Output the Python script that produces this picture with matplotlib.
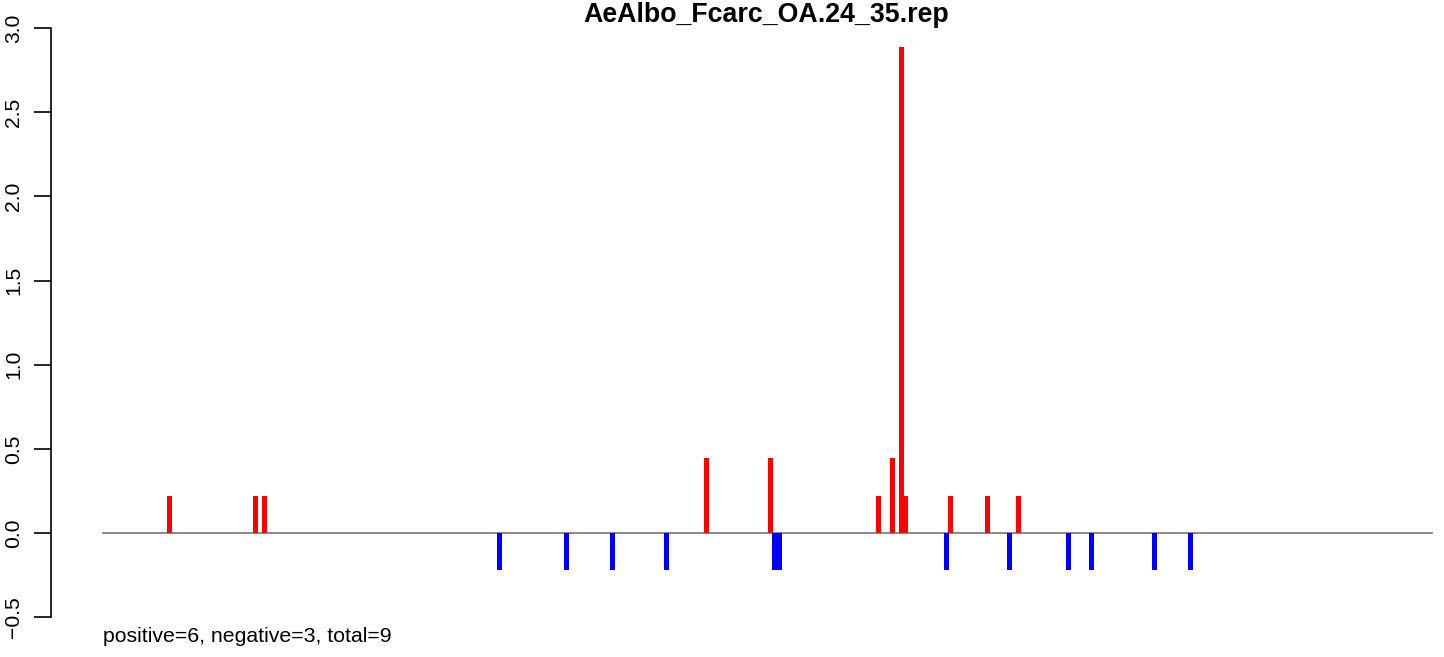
import numpy as np
import matplotlib
matplotlib.use("Agg")
import matplotlib.pyplot as plt

plt.rcParams['font.family'] = ['Liberation Sans', 'DejaVu Sans']

title = "AeAlbo_Fcarc_OA.24_35.rep"
note = "positive=6, negative=3, total=9"

# positions along the sequence (plot units), and scores
pos_x = [66.5, 152.5, 161.5, 603.5, 667.5, 775.5, 789.5, 798.3, 802.8, 847.5, 884.5, 915.5]
pos_y = [0.222, 0.222, 0.222, 0.444, 0.444, 0.222, 0.444, 2.889, 0.222, 0.222, 0.222, 0.222]
neg_x = [396.5, 463.5, 509.5, 563.5, 671.5, 676.5, 843.5, 906.5, 965.5, 988.5, 1051.5, 1087.5]
neg_y = [-0.222] * 12
seq_len = 1329
yticks = [-0.5, 0.0, 0.5, 1.0, 1.5, 2.0, 2.5, 3.0]

W, H = 1444, 657
fig = plt.figure(figsize=(W / 100, H / 100), dpi=100)
left = 50.7
ax = fig.add_axes([left / W, 0, 1 - left / W, 1])

# pixel layout: x data = px - 103 ; y 0 at px 533.3, 168.4 px per unit
ax.set_xlim(left - 103, W - 103)
ppu = 168.4
ax.set_ylim(-0.5 - (H - 617.3) / ppu, 3.0 + 28 / ppu)

ax.plot([0, seq_len], [0, 0], color='#808080', lw=1.3, zorder=1)
ax.bar(pos_x, pos_y, width=4.8, color='#ff0000', zorder=2, linewidth=0)
ax.bar(neg_x, neg_y, width=4.8, color='#0000ff', zorder=2, linewidth=0)

for s in ['top', 'right', 'bottom']:
    ax.spines[s].set_visible(False)
ax.spines['left'].set_bounds(-0.5, 3.0)
ax.spines['left'].set_linewidth(1.2)
ax.set_xticks([])
ax.set_yticks(yticks)
ax.set_yticklabels(['\u22120.5'] + ['%.1f' % v for v in yticks[1:]], rotation=90,
                   va='center', fontsize=15.2)
ax.tick_params(axis='y', length=12, width=1.2, pad=8)

fig.text(766 / W, 1 - 15 / H, title, ha='center', va='center',
         fontsize=19.3, fontweight='bold')
fig.text(103 / W, 1 - 637 / H, note, ha='left', va='center', fontsize=15.3)

fig.savefig('out.png', dpi=100)
